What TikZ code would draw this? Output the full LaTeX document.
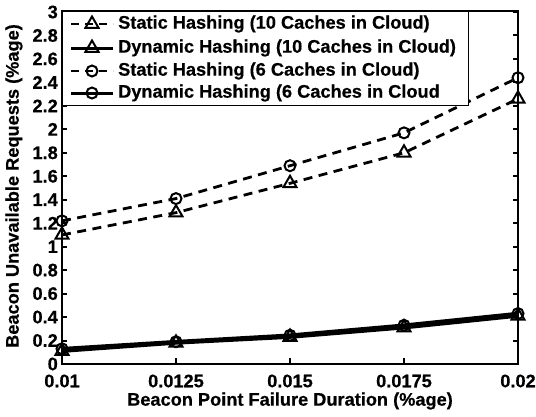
\documentclass[tikz,border=0pt]{standalone}
\usepackage{fontspec}
\setmainfont{Liberation Sans}[BoldFeatures={FakeBold=0.5}]
\usetikzlibrary{shapes.geometric}
\begin{document}
\begin{tikzpicture}[x=1pt,y=-1pt,
  lbl/.style={font=\fontsize{18.2}{20}\selectfont\bfseries, inner sep=0pt},
  tri/.style={regular polygon, regular polygon sides=3, draw, line width=2pt, inner sep=0pt, minimum size=15pt},
  circ/.style={circle, draw, line width=2pt, inner sep=0pt, minimum size=11pt},
  dashline/.style={line width=2.8pt, dash pattern=on 9pt off 6.5pt},
  solidline/.style={line width=3.6pt},
  axisline/.style={line width=2.8pt},
  tickline/.style={line width=2pt}]
\useasboundingbox (0,0) rectangle (536,416);
% data points (x pixel = 62+114 i, y pixel = 364 - 117.33 v)
\foreach \i/\v [count=\k] in {0/1.10,1/1.29,2/1.54,3/1.80,4/2.26}
  \coordinate (sa\k) at ({62+114*\i},{364-117.33*\v});
\foreach \i/\v [count=\k] in {0/1.22,1/1.41,2/1.69,3/1.97,4/2.44}
  \coordinate (sb\k) at ({62+114*\i},{364-117.33*\v});
\foreach \i/\v [count=\k] in {0/0.11,1/0.18,2/0.23,3/0.31,4/0.41}
  \coordinate (da\k) at ({62+114*\i},{364-117.33*\v});
\foreach \i/\v [count=\k] in {0/0.13,1/0.19,2/0.245,3/0.33,4/0.43}
  \coordinate (db\k) at ({62+114*\i},{364-117.33*\v});
% axes box
\draw[axisline] (62,11) rectangle (518,364);
% y ticks
\foreach \k/\t in {0/0,1/0.2,2/0.4,3/0.6,4/0.8,5/1,6/1.2,7/1.4,8/1.6,9/1.8,10/2,11/2.2,12/2.4,13/2.6,14/2.8,15/3} {
  \draw[tickline] (62,{364-23.467*\k}) -- (67,{364-23.467*\k});
  \draw[tickline] (518,{364-23.467*\k}) -- (513,{364-23.467*\k});
  \node[lbl, anchor=east] (yl\k) at (58,{364-23.467*\k}) {\t};
}
% x ticks
\foreach \i/\t in {0/0.01,1/0.0125,2/0.015,3/0.0175,4/0.02} {
  \draw[tickline] ({62+114*\i},364) -- ({62+114*\i},358);
  \draw[tickline] ({62+114*\i},11) -- ({62+114*\i},17);
  \node[lbl] (xl\i) at ({62+114*\i},381) {\t};
}
% axis labels
\node[lbl] (xlabel) at (290,401) {Beacon Point Failure Duration (\%age)};
\node[lbl, rotate=90] (ylabel) at (14,186) {Beacon Unavailable Requests (\%age)};
% series
\draw[dashline] (sa1) -- (sa2) -- (sa3) -- (sa4) -- (sa5);
\draw[dashline] (sb1) -- (sb2) -- (sb3) -- (sb4) -- (sb5);
\draw[solidline] (da1) -- (da2) -- (da3) -- (da4) -- (da5);
\draw[solidline] (db1) -- (db2) -- (db3) -- (db4) -- (db5);
\foreach \k in {1,...,5} {
  \node[tri] (ma\k) at (sa\k) {};
  \node[circ] (mb\k) at (sb\k) {};
  \node[tri] (mc\k) at (da\k) {};
  \node[circ] (md\k) at (db\k) {};
}
% legend
\draw[line width=0.8pt, fill=white] (62,11) rectangle (468,105);
\coordinate (l1a) at (71,24); \coordinate (l1b) at (113,24);
\coordinate (l2a) at (71,48); \coordinate (l2b) at (113,48);
\coordinate (l3a) at (71,71); \coordinate (l3b) at (113,71);
\coordinate (l4a) at (71,93); \coordinate (l4b) at (113,93);
\draw[line width=2.8pt, dash pattern=on 8pt off 6pt] (l1a) -- (l1b);
\draw[solidline, line width=3pt] (l2a) -- (l2b);
\draw[line width=2.8pt, dash pattern=on 8pt off 6pt] (l3a) -- (l3b);
\draw[solidline, line width=3pt] (l4a) -- (l4b);
\node[tri] (lm1) at (92,24) {};
\node[tri] (lm2) at (92,48) {};
\node[circ] (lm3) at (92,71) {};
\node[circ] (lm4) at (92,93) {};
\node[lbl, anchor=west] (lt1) at (118,24) {Static Hashing (10 Caches in Cloud)};
\node[lbl, anchor=west] (lt2) at (118,48) {Dynamic Hashing (10 Caches in Cloud)};
\node[lbl, anchor=west] (lt3) at (118,71) {Static Hashing (6 Caches in Cloud)};
\node[lbl, anchor=west] (lt4) at (118,93) {Dynamic Hashing (6 Caches in Cloud};
\end{tikzpicture}
\end{document}
